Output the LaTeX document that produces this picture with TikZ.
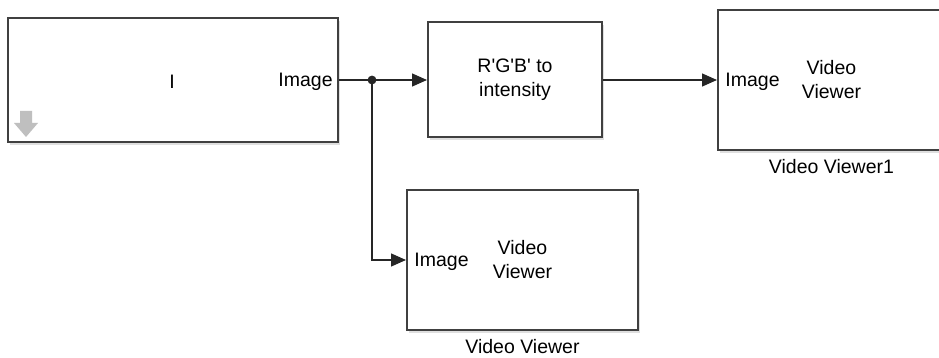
\documentclass[tikz,border=0pt]{standalone}
\usepackage{fontspec}
\setmainfont{Liberation Sans}
\usepackage{xcolor}
\usetikzlibrary{positioning, arrows.meta, shadows}

\begin{document}
\begin{tikzpicture}[
        x=0.5pt, y=-0.5pt,
        font=\fontsize{9.75}{12}\selectfont,
        block/.style={draw=black!75, line width=1pt, fill=white, inner sep=0pt,
            drop shadow={shadow xshift=1.2pt, shadow yshift=-1.5pt, opacity=0.25}, align=center},
        port/.style={inner sep=2pt},
        sig/.style={-{Triangle[length=7.5pt, width=6.5pt]}, line width=0.7pt, black!85},
        caption/.style={inner sep=1pt},
    ]
    \useasboundingbox (0,0) rectangle (939,358);

    % Source block
    \node[block, minimum width=165pt, minimum height=62pt] (src) at (173,80) {};
    \node at (172,82) {I};
    \node[port, anchor=east, xshift=-1pt, yshift=-1pt] (srcout) at (src.east) {Image};
    \fill[black!25] (20,111) -- (32,111) -- (32,123) -- (38,123) -- (26,137) -- (14,123) -- (20,123) -- cycle;

    % Colour space conversion
    \node[block, minimum width=87pt, minimum height=57.5pt] (rgb) at (515,80)
        {R\textquotesingle G\textquotesingle B\textquotesingle\ to\\intensity};

    % Viewer of the intensity
    \node[block, minimum width=113.5pt, minimum height=70pt] (vv1) at (831.5,80) {Video\\Viewer};
    \node[port, anchor=west, xshift=2pt, yshift=-1pt] (vv1in) at (vv1.west) {Image};
    \node[caption, below=3pt of vv1] (vv1cap) {Video Viewer1};

    % Viewer of the original image
    \node[block, minimum width=115.5pt, minimum height=70pt] (vv) at (522.5,260) {Video\\Viewer};
    \node[port, anchor=west, xshift=2pt, yshift=-1pt] (vvin) at (vv.west) {Image};
    \node[caption, below=3pt of vv] (vvcap) {Video Viewer};

    % Signal lines
    \coordinate (jn) at (372,80);
    \draw[sig] (src.east) -- (rgb.west);
    \draw[sig] (rgb.east) -- (vv1.west);
    \draw[sig] (jn) |- (vv.west);
    \fill[black!85] (jn) circle (2.2pt);
\end{tikzpicture}
\end{document}
